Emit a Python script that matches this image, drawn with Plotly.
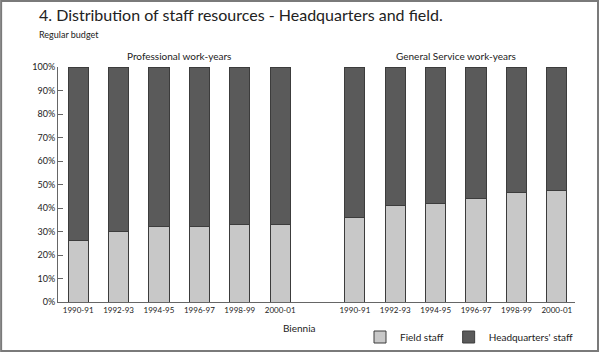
import plotly.graph_objects as go

bienniums = ["1990-91", "1992-93", "1994-95", "1996-97", "1998-99", "2000-01"]
tick_labels = ["1990-91", "1992-93", "1994-95", "1996-97", "1998-99", "2000-01"]
prof_field = [26, 30, 32, 32, 33, 33]
gs_field = [36, 41, 42, 44, 46.5, 47.5]
prof_hq = [100 - v for v in prof_field]
gs_hq = [100 - v for v in gs_field]

group_offset = 6.85
x_prof = [i for i in range(len(bienniums))]
x_gs = [i + group_offset for i in range(len(bienniums))]
x_all = x_prof + x_gs
field_all = prof_field + gs_field
hq_all = prof_hq + gs_hq

FIELD_C = "#c8c8c8"
HQ_C = "#5a5a5a"
EDGE = "#3c3c3c"
TXT = "#222222"
FONT = "Lato"

fig = go.Figure()
fig.add_trace(go.Bar(x=x_all, y=field_all, name="Field staff", width=0.5,
                     marker=dict(color=FIELD_C, line=dict(color=EDGE, width=1))))
fig.add_trace(go.Bar(x=x_all, y=hq_all, name="Headquarters' staff", width=0.5,
                     marker=dict(color=HQ_C, line=dict(color=EDGE, width=1))))

H = 353.0
W = 600.0

fig.update_layout(
    barmode="stack",
    width=600, height=353,
    margin=dict(l=58, r=25, t=67, b=51, autoexpand=False),
    paper_bgcolor="white", plot_bgcolor="white",
    font=dict(family=FONT, color=TXT, size=9),
    showlegend=True,
    legend=dict(orientation="h", xref="container", yref="container",
                x=578 / W, xanchor="right", y=1 - 337 / H, yanchor="middle",
                font=dict(size=10, family=FONT, color=TXT),
                itemwidth=30, traceorder="normal", bgcolor="rgba(0,0,0,0)"),
    xaxis=dict(range=[-0.5, 12.3], tickmode="array", tickvals=x_all,
               ticktext=tick_labels + tick_labels, showgrid=False, zeroline=False,
               showline=True, linecolor="#666666", linewidth=1, ticks="",
               automargin=False,
               tickfont=dict(size=8, family=FONT, color=TXT), tickangle=0),
    yaxis=dict(range=[0, 100], tickmode="array", tickvals=list(range(0, 101, 10)),
               ticktext=[f"{v}%" for v in range(0, 101, 10)], showgrid=False,
               zeroline=False, showline=True, linecolor="#666666", linewidth=1,
               ticks="inside", ticklen=5, tickcolor="#666666", automargin=False,
               tickfont=dict(size=9, family=FONT, color=TXT)),
    shapes=[dict(type="rect", xref="paper", yref="paper",
                 x0=-0.11, x1=1.0445, y0=-0.2085, y1=1.281,
                 line=dict(color="#7a7a7a", width=2), layer="above")],
    annotations=[
        dict(text="4. Distribution of staff resources - Headquarters and field.",
             xref="paper", yref="paper", x=-0.041, y=1.225, xanchor="left", yanchor="middle",
             showarrow=False, font=dict(size=16, family=FONT, color=TXT)),
        dict(text="Regular budget", xref="paper", yref="paper", x=-0.041, y=1.14,
             xanchor="left", yanchor="middle", showarrow=False,
             font=dict(size=9, family=FONT, color=TXT)),
        dict(text="Professional work-years", xref="x", yref="paper", x=2.5, y=1.045,
             xanchor="center", yanchor="middle", showarrow=False,
             font=dict(size=10, family=FONT, color=TXT)),
        dict(text="General Service work-years", xref="x", yref="paper", x=2.5 + group_offset, y=1.045,
             xanchor="center", yanchor="middle", showarrow=False,
             font=dict(size=10, family=FONT, color=TXT)),
        dict(text="Biennia", xref="paper", yref="paper", x=0.468, y=-0.11,
             xanchor="center", yanchor="middle", showarrow=False,
             font=dict(size=10, family=FONT, color=TXT)),
    ],
)

fig.write_html("out.html")
